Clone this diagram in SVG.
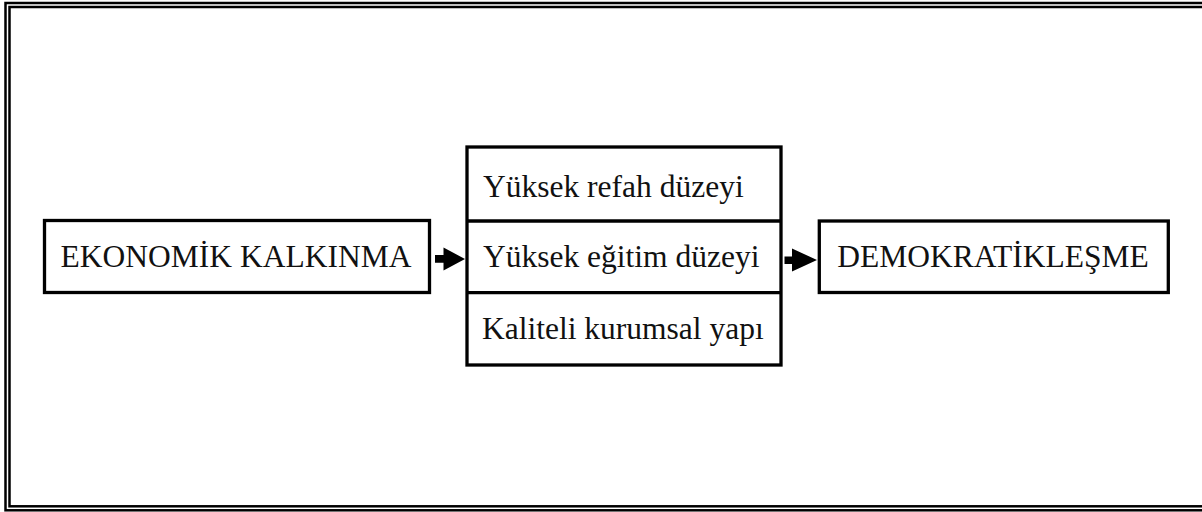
<svg xmlns="http://www.w3.org/2000/svg" width="1202" height="512" viewBox="0 0 1202 512">
<style>
.frame{fill:none;stroke:#000;stroke-width:2.5}
.box{fill:#fff;stroke:#000;stroke-width:3.3}
.t{font-family:"Liberation Serif","Times New Roman",serif;font-size:31.5px;fill:#111}
.arr{fill:#000}
</style>
<rect width="1202" height="512" fill="#fff"/>
<g id="frame">
<rect class="frame" x="5.5" y="3" width="1210" height="507.3"/>
<rect class="frame" x="9.5" y="7" width="1210" height="499.3"/>
</g>
<g id="node-ekonomik">
<rect class="box" x="44.5" y="220.5" width="385" height="72"/>
<text class="t" x="236" y="266.5" text-anchor="middle">EKONOMİK KALKINMA</text>
</g>
<g id="node-middle">
<rect class="box" x="467" y="147" width="314" height="218"/>
<line x1="467" y1="221" x2="781" y2="221" stroke="#000" stroke-width="3.3"/>
<line x1="467" y1="292.7" x2="781" y2="292.7" stroke="#000" stroke-width="3.3"/>
</g>
<g id="node-refah">
<text class="t" x="483" y="196.5">Yüksek refah düzeyi</text>
</g>
<g id="node-egitim">
<text class="t" x="483" y="266.5">Yüksek eğitim düzeyi</text>
</g>
<g id="node-kurumsal">
<text class="t" x="482" y="339">Kaliteli kurumsal yapı</text>
</g>
<g id="node-demokratik">
<rect class="box" x="819.3" y="221" width="349" height="71.5"/>
<text class="t" x="993" y="266.5" text-anchor="middle">DEMOKRATİKLEŞME</text>
</g>
<g id="connectors">
<polygon class="arr" points="435,255 443.5,255 443.5,247.5 465,259 443.5,270.5 443.5,262.7 435,262.7"/>
<polygon class="arr" points="784.5,256.5 792,256.5 792,248.5 817,260 792,271.5 792,264 784.5,264"/>
</g>
</svg>
